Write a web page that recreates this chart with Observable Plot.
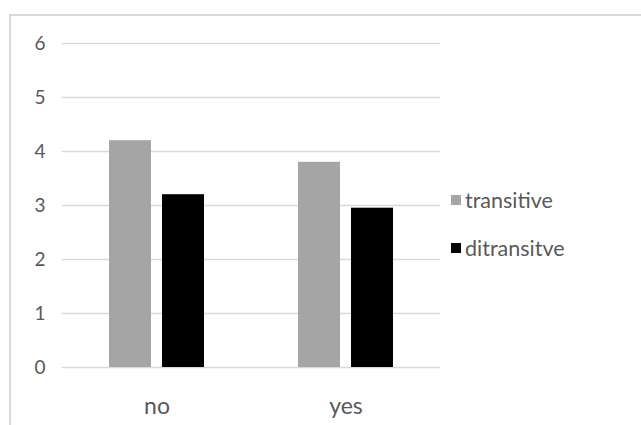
<!DOCTYPE html>
<html>
<head>
<meta charset="utf-8">
<script src="https://cdn.jsdelivr.net/npm/d3@7"></script>
<script src="https://cdn.jsdelivr.net/npm/@observablehq/plot@0.6"></script>
<style>
  html, body { margin: 0; padding: 0; background: #fff; }
  #wrap { position: relative; width: 641px; height: 425px; overflow: hidden; font-family: Lato, "Open Sans", sans-serif; }
  #border { position: absolute; left: 9px; top: 14px; width: 700px; height: 500px; border-left: 2px solid #d9d9d9; border-top: 2px solid #d9d9d9; box-sizing: border-box; }
  #legend { position: absolute; left: 451px; top: 0; font-size: 21.5px; color: #595959; }
  .item { position: absolute; white-space: nowrap; display: flex; align-items: center; }
  .sw { width: 10px; height: 10px; margin-right: 4px; }
  svg { position: absolute; left: 0; top: 0; }
</style>
</head>
<body>
<div id="wrap">
  <div id="border"></div>
  <div id="chart"></div>
  <div id="legend"></div>
</div>
<script>
const categories = ["no", "yes"];
const series = ["transitive", "ditransitve"];
const transitive = [4.2, 3.8];
const ditransitve = [3.2, 2.95];
const colors = ["#a5a5a5", "#000000"];
const yTicks = [0, 1, 2, 3, 4, 5, 6];

const seriesValues = [transitive, ditransitve];
const rows = [];
categories.forEach((c, i) => {
  series.forEach((s, j) => rows.push({category: c, series: s, value: seriesValues[j][i]}));
});

const chart = Plot.plot({
  width: 641,
  height: 425,
  marginLeft: 62,
  marginRight: 201,
  marginTop: 43,
  marginBottom: 58,
  style: {fontFamily: "Lato, 'Open Sans', sans-serif", fontSize: "18px", color: "#595959", background: "transparent"},
  fx: {domain: categories, padding: 0, label: null},
  x: {domain: series, paddingInner: 0.21, paddingOuter: 0.86, axis: null},
  y: {domain: [0, 6], label: null},
  color: {domain: series, range: colors},
  marks: [
    Plot.ruleY(yTicks, {stroke: "#d9d9d9", strokeWidth: 1.5, strokeOpacity: 1}),
    Plot.barY(rows, {fx: "category", x: "series", y: "value", fill: "series"}),
    Plot.axisY(yTicks, {tickSize: 0, tickPadding: 17, fontSize: 19, fill: "#595959", tickFormat: d3.format("d"), label: null}),
    Plot.axisFx({anchor: "bottom", tickSize: 0, tickPadding: 30, fontSize: 23, fill: "#595959", label: null})
  ]
});
document.getElementById("chart").appendChild(chart);

const legend = document.getElementById("legend");
const legendTops = [187, 235];
series.forEach((s, j) => {
  const item = document.createElement("div");
  item.className = "item";
  item.style.top = legendTops[j] + "px";
  const sw = document.createElement("span");
  sw.className = "sw";
  sw.style.background = colors[j];
  const t = document.createElement("span");
  t.textContent = s;
  item.appendChild(sw);
  item.appendChild(t);
  legend.appendChild(item);
});
</script>
</body>
</html>
